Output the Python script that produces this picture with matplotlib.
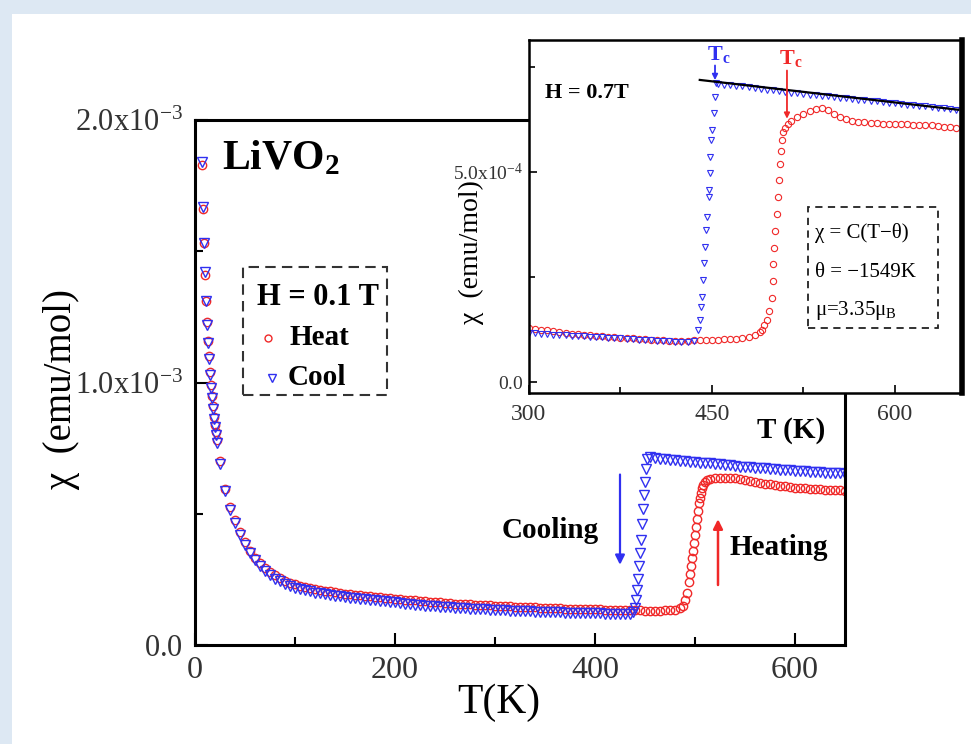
import matplotlib
matplotlib.use("Agg")
import matplotlib.pyplot as plt
from matplotlib.patches import Rectangle
from matplotlib.ticker import FixedLocator, FixedFormatter

plt.rcParams['font.family'] = 'Liberation Serif'
plt.rcParams['mathtext.fontset'] = 'custom'
plt.rcParams['mathtext.rm'] = 'Liberation Serif'
plt.rcParams['mathtext.it'] = 'Liberation Serif:italic'
plt.rcParams['mathtext.bf'] = 'Liberation Serif:bold'

RED = '#f02828'
BLUE = '#3030f0'

# ---- main plot, H = 0.1 T, chi in 1e-3 emu/mol ----
cool_T_low = [7, 8, 9, 10, 11, 12, 13, 14, 15, 16, 17, 18, 19, 20, 21, 22]
cool_chi_low = [1.84, 1.67, 1.53, 1.42, 1.31, 1.22, 1.15, 1.09, 1.03, 0.98, 0.94, 0.90, 0.86, 0.83, 0.80, 0.77]
cool_T_tail = [25, 30, 35, 40, 45, 50, 55, 60, 65, 70, 75, 80, 85, 90, 95, 100, 105, 110, 115, 120,
               125, 130, 135, 140, 145, 150, 155, 160, 165, 170, 175, 180, 185, 190, 195, 200, 205, 210,
               215, 220, 225, 230, 235, 240, 245, 250, 255, 260, 265, 270, 275, 280, 285, 290, 295, 300,
               305, 310, 315, 320, 325, 330, 335, 340, 345, 350, 355, 360, 365, 370, 375, 380, 385, 390,
               395, 400, 405, 410, 415, 420, 425, 430, 435]
cool_chi_tail = [0.690, 0.585, 0.515, 0.465, 0.420, 0.380, 0.350, 0.322, 0.300, 0.283, 0.267, 0.253,
                 0.242, 0.232, 0.224, 0.218, 0.213, 0.208, 0.204, 0.200, 0.197, 0.194, 0.191, 0.188,
                 0.185, 0.183, 0.180, 0.178, 0.176, 0.174, 0.172, 0.170, 0.168, 0.166, 0.164, 0.162,
                 0.160, 0.158, 0.156, 0.154, 0.152, 0.150, 0.149, 0.147, 0.146, 0.145, 0.143, 0.142,
                 0.141, 0.140, 0.139, 0.138, 0.137, 0.136, 0.135, 0.134, 0.133, 0.132, 0.131, 0.130,
                 0.129, 0.128, 0.128, 0.127, 0.126, 0.126, 0.125, 0.124, 0.124, 0.123, 0.123, 0.122,
                 0.122, 0.122, 0.121, 0.121, 0.121, 0.120, 0.120, 0.120, 0.120, 0.119, 0.119]
cool_T_jump = [438, 440, 441, 442, 443, 444, 445, 446, 447, 448, 449, 450, 451, 452]
cool_chi_jump = [0.125, 0.14, 0.17, 0.21, 0.25, 0.30, 0.35, 0.40, 0.46, 0.52, 0.57, 0.62, 0.67, 0.71]
cool_T_high = [455, 460, 465, 470, 475, 480, 485, 490, 495, 500, 505, 510, 515, 520, 525, 530, 535,
               540, 545, 550, 555, 560, 565, 570, 575, 580, 585, 590, 595, 600, 605, 610, 615, 620,
               625, 630, 635, 640, 645, 650]
cool_chi_high = [0.715, 0.712, 0.710, 0.708, 0.706, 0.704, 0.702, 0.700, 0.699, 0.697, 0.695, 0.693,
                 0.692, 0.690, 0.688, 0.686, 0.684, 0.682, 0.680, 0.679, 0.677, 0.676, 0.674, 0.673,
                 0.671, 0.670, 0.668, 0.667, 0.665, 0.664, 0.662, 0.661, 0.660, 0.659, 0.658, 0.657,
                 0.656, 0.655, 0.654, 0.653]

heat_T_low = [7, 8, 9, 10, 11, 12, 13, 14, 15, 16, 17, 18, 19, 20, 21, 22]
heat_chi_low = [1.83, 1.66, 1.53, 1.41, 1.31, 1.23, 1.16, 1.10, 1.04, 0.99, 0.95, 0.91, 0.87, 0.84, 0.81, 0.78]
heat_T_tail = [25, 30, 35, 40, 45, 50, 55, 60, 65, 70, 75, 80, 85, 90, 95, 100, 105, 110, 115, 120,
               125, 130, 135, 140, 145, 150, 155, 160, 165, 170, 175, 180, 185, 190, 195, 200, 205, 210,
               215, 220, 225, 230, 235, 240, 245, 250, 255, 260, 265, 270, 275, 280, 285, 290, 295, 300,
               305, 310, 315, 320, 325, 330, 335, 340, 345, 350, 355, 360, 365, 370, 375, 380, 385, 390,
               395, 400, 405, 410, 415, 420, 425, 430, 435, 440, 445, 450, 455, 460, 465, 470, 475, 480,
               485]
heat_chi_tail = [0.700, 0.595, 0.525, 0.475, 0.430, 0.391, 0.360, 0.333, 0.311, 0.294, 0.279, 0.265,
                 0.254, 0.245, 0.237, 0.231, 0.226, 0.221, 0.217, 0.213, 0.210, 0.207, 0.204, 0.201,
                 0.199, 0.196, 0.194, 0.192, 0.190, 0.188, 0.186, 0.184, 0.182, 0.180, 0.178, 0.176,
                 0.175, 0.173, 0.171, 0.170, 0.168, 0.167, 0.165, 0.164, 0.162, 0.161, 0.160, 0.158,
                 0.157, 0.156, 0.155, 0.154, 0.153, 0.152, 0.151, 0.150, 0.149, 0.148, 0.147, 0.146,
                 0.145, 0.145, 0.144, 0.143, 0.142, 0.142, 0.141, 0.140, 0.140, 0.139, 0.139, 0.138,
                 0.138, 0.137, 0.137, 0.136, 0.136, 0.135, 0.135, 0.134, 0.134, 0.133, 0.133, 0.132,
                 0.132, 0.131, 0.131, 0.131, 0.131, 0.132, 0.133, 0.135, 0.140]
heat_T_jump = [488, 490, 492, 494, 495, 496, 497, 498, 499, 500, 501, 502, 503, 504, 505, 506, 507, 508, 510, 512]
heat_chi_jump = [0.15, 0.17, 0.20, 0.24, 0.27, 0.30, 0.33, 0.36, 0.39, 0.42, 0.45, 0.48, 0.51, 0.54,
                 0.56, 0.58, 0.60, 0.61, 0.62, 0.63]
heat_T_high = [515, 520, 525, 530, 535, 540, 545, 550, 555, 560, 565, 570, 575, 580, 585, 590, 595,
               600, 605, 610, 615, 620, 625, 630, 635, 640, 645, 650]
heat_chi_high = [0.632, 0.636, 0.638, 0.638, 0.637, 0.636, 0.633, 0.630, 0.626, 0.622, 0.618, 0.615,
                 0.612, 0.609, 0.606, 0.604, 0.602, 0.600, 0.598, 0.597, 0.595, 0.594, 0.593, 0.592,
                 0.591, 0.590, 0.589, 0.588]

# ---- inset, H = 0.7 T, chi in 1e-4 emu/mol ----
in_cool_T_low = [300, 305, 310, 315, 320, 325, 330, 335, 340, 345, 350, 355, 360, 365, 370, 375, 380,
                 385, 390, 395, 400, 405, 410, 415, 420, 425, 430, 435]
in_cool_chi_low = [1.17, 1.16, 1.15, 1.14, 1.13, 1.12, 1.11, 1.10, 1.09, 1.09, 1.08, 1.07, 1.07, 1.06,
                   1.05, 1.04, 1.03, 1.02, 1.01, 1.00, 0.99, 0.98, 0.97, 0.97, 0.96, 0.96, 0.96, 0.97]
in_cool_T_jump = [438.8, 440.2, 441.1, 441.7, 443.0, 443.6, 444.4, 445.2, 445.8, 447.2, 447.6, 448.0,
                  448.5, 449.1, 449.9, 451.3, 452.6, 453.5]
in_cool_chi_jump = [1.24, 1.48, 1.79, 2.03, 2.43, 2.83, 3.22, 3.62, 3.94, 4.41, 4.57, 4.97, 5.36, 5.76,
                    6.00, 6.40, 6.79, 7.11]
in_cool_T_high = [455, 460, 465, 470, 475, 480, 485, 490, 495, 500, 505, 510, 515, 520, 525, 530, 535,
                  540, 545, 550, 555, 560, 565, 570, 575, 580, 585, 590, 595, 600, 605, 610, 615, 620,
                  625, 630, 635, 640, 645, 650]
in_cool_chi_high = [7.10, 7.08, 7.07, 7.05, 7.04, 7.02, 7.00, 6.98, 6.96, 6.94, 6.92, 6.90, 6.89, 6.87,
                    6.86, 6.84, 6.83, 6.81, 6.80, 6.78, 6.77, 6.75, 6.74, 6.72, 6.71, 6.69, 6.68, 6.66,
                    6.65, 6.63, 6.62, 6.60, 6.59, 6.57, 6.56, 6.54, 6.53, 6.51, 6.50, 6.48]

in_heat_T_low = [300, 305, 310, 315, 320, 325, 330, 335, 340, 345, 350, 355, 360, 365, 370, 375, 380,
                 385, 390, 395, 400, 405, 410, 415, 420, 425, 430, 435, 440, 445, 450, 455, 460, 465,
                 470, 475, 480, 485]
in_heat_chi_low = [1.29, 1.27, 1.25, 1.23, 1.21, 1.19, 1.17, 1.15, 1.14, 1.12, 1.11, 1.10, 1.09, 1.08,
                   1.07, 1.06, 1.05, 1.04, 1.03, 1.02, 1.01, 1.00, 0.99, 0.98, 0.98, 0.98, 0.98, 0.99,
                   1.00, 1.00, 1.01, 1.01, 1.02, 1.02, 1.03, 1.05, 1.08, 1.13]
in_heat_T_jump = [489, 491, 493, 495, 497, 499, 499.7, 500.3, 501, 502, 503, 504, 505, 505.7, 506.5,
                  507.1, 508.5, 509.8, 512]
in_heat_chi_jump = [1.19, 1.25, 1.35, 1.48, 1.70, 2.00, 2.40, 2.80, 3.20, 3.60, 4.00, 4.40, 4.80, 5.20,
                    5.50, 5.76, 5.95, 6.04, 6.15]
in_heat_T_high = [515, 520, 525, 530, 535, 540, 545, 550, 555, 560, 565, 570, 575, 580, 585, 590, 595,
                  600, 605, 610, 615, 620, 625, 630, 635, 640, 645, 650]
in_heat_chi_high = [6.22, 6.30, 6.38, 6.45, 6.50, 6.52, 6.48, 6.38, 6.30, 6.25, 6.22, 6.20, 6.19, 6.17,
                    6.16, 6.15, 6.14, 6.14, 6.13, 6.13, 6.12, 6.12, 6.12, 6.11, 6.10, 6.08, 6.06, 6.05]

fit_T = [440, 652]
fit_chi = [7.19, 6.48]

main_xticks = [0, 200, 400, 600]
main_yticks = [0.0, 1.0e-3, 2.0e-3]
main_ylabels = [r'$\mathregular{0.0}$', r'$\mathregular{1.0x10^{-3}}$', r'$\mathregular{2.0x10^{-3}}$']
inset_xticks = [300, 450, 600]
inset_yticks = [0.0, 5.0e-4]
inset_ylabels = [r'$\mathregular{0.0}$', r'$\mathregular{5.0x10^{-4}}$']

cool_T = cool_T_low + cool_T_tail + cool_T_jump + cool_T_high
cool_chi = [v * 1e-3 for v in cool_chi_low + cool_chi_tail + cool_chi_jump + cool_chi_high]
heat_T = heat_T_low + heat_T_tail + heat_T_jump + heat_T_high
heat_chi = [v * 1e-3 for v in heat_chi_low + heat_chi_tail + heat_chi_jump + heat_chi_high]
in_cool_T = in_cool_T_low + in_cool_T_jump + in_cool_T_high
in_cool_chi = [v * 1e-4 for v in in_cool_chi_low + in_cool_chi_jump + in_cool_chi_high]
in_heat_T = in_heat_T_low + in_heat_T_jump + in_heat_T_high
in_heat_chi = [v * 1e-4 for v in in_heat_chi_low + in_heat_chi_jump + in_heat_chi_high]

W, H = 971, 744
fig = plt.figure(figsize=(W / 100, H / 100), dpi=100)
fig.patch.set_facecolor('#dde8f3')
fig.add_artist(Rectangle((12 / W, 0), 1, 1 - 14 / H, transform=fig.transFigure,
                         facecolor='white', edgecolor='none', zorder=-5))

ax = fig.add_axes([195 / W, 1 - 645 / H, 650 / W, 525 / H])
ax.plot(heat_T, heat_chi, ls='none', marker='o', ms=6, mfc='none', mec=RED, mew=1.0)
ax.plot(cool_T, cool_chi, ls='none', marker='v', ms=6.5, mfc='none', mec=BLUE, mew=1.0)
ax.set_xlim(0, 650)
ax.set_ylim(0, 2.0e-3)
ax.xaxis.set_major_locator(FixedLocator(main_xticks))
ax.xaxis.set_minor_locator(FixedLocator([100, 300, 500]))
ax.yaxis.set_major_locator(FixedLocator(main_yticks))
ax.yaxis.set_major_formatter(FixedFormatter(main_ylabels))
ax.yaxis.set_minor_locator(FixedLocator([0.5e-3, 1.5e-3]))
ax.tick_params(which='both', direction='in', width=1.5, colors='black', labelcolor='#333333')
ax.tick_params(which='major', length=9)
ax.tick_params(which='minor', length=6)
ax.tick_params(axis='x', labelsize=23, pad=8)
ax.tick_params(axis='y', labelsize=22, pad=9)
for s in ax.spines.values():
    s.set_linewidth(2.2)

ax.text(-0.205, 0.486, u'\u03c7  (emu/mol)', transform=ax.transAxes, rotation=90,
        ha='center', va='center', fontsize=28)
ax.text(0.468, -0.11, 'T(K)', transform=ax.transAxes, ha='center', va='center', fontsize=30)
ax.text(0.042, 0.962, r'LiVO$_\mathbf{2}$', transform=ax.transAxes, ha='left', va='top',
        fontsize=30, fontweight='bold')

# legend box
ax.add_patch(Rectangle((0.074, 0.476), 0.221, 0.244, transform=ax.transAxes, fill=False,
                       ec='#333333', lw=1.5, ls=(0, (5, 3))))
ax.text(0.095, 0.661, 'H = 0.1 T', transform=ax.transAxes, ha='left', va='center',
        fontsize=22, fontweight='bold')
ax.plot([0.112], [0.585], transform=ax.transAxes, marker='o', ms=5, mfc='none', mec=RED, mew=1)
ax.text(0.146, 0.585, 'Heat', transform=ax.transAxes, ha='left', va='center',
        fontsize=21, fontweight='bold')
ax.plot([0.118], [0.509], transform=ax.transAxes, marker='v', ms=6, mfc='none', mec=BLUE, mew=1)
ax.text(0.143, 0.509, 'Cool', transform=ax.transAxes, ha='left', va='center',
        fontsize=21, fontweight='bold')

ax.text(0.472, 0.219, 'Cooling', transform=ax.transAxes, ha='left', va='center',
        fontsize=21, fontweight='bold')
ax.text(0.823, 0.185, 'Heating', transform=ax.transAxes, ha='left', va='center',
        fontsize=21, fontweight='bold')
ax.annotate('', xy=(425, 0.295e-3), xytext=(425, 0.66e-3),
            arrowprops=dict(arrowstyle='-|>', color=BLUE, lw=1.6, mutation_scale=14))
ax.annotate('', xy=(523, 0.49e-3), xytext=(523, 0.218e-3),
            arrowprops=dict(arrowstyle='-|>', color=RED, lw=1.8, mutation_scale=14))

# inset
ins = fig.add_axes([529 / W, 1 - 393 / H, 433 / W, 353 / H])
ins.set_facecolor('white')
ins.plot(in_heat_T, in_heat_chi, ls='none', marker='o', ms=4.5, mfc='none', mec=RED, mew=0.8)
ins.plot(in_cool_T, in_cool_chi, ls='none', marker='v', ms=4.8, mfc='none', mec=BLUE, mew=0.8)
ins.plot(fit_T, [v * 1e-4 for v in fit_chi], color='black', lw=1.6)
ins.set_xlim(300, 655)
ins.set_ylim(-0.26e-4, 8.14e-4)
ins.xaxis.set_major_locator(FixedLocator(inset_xticks))
ins.xaxis.set_minor_locator(FixedLocator([375, 525]))
ins.yaxis.set_major_locator(FixedLocator(inset_yticks))
ins.yaxis.set_major_formatter(FixedFormatter(inset_ylabels))
ins.yaxis.set_minor_locator(FixedLocator([2.5e-4, 7.5e-4]))
ins.tick_params(which='both', direction='in', width=1.2, labelcolor='#333333')
ins.tick_params(which='major', length=6)
ins.tick_params(which='minor', length=4)
ins.tick_params(axis='x', labelsize=17, pad=8)
ins.tick_params(axis='y', labelsize=14, pad=4)
for s in ins.spines.values():
    s.set_linewidth(1.8)
ins.spines['right'].set_linewidth(4)

ins.text(-0.132, 0.40, u'\u03c7  (emu/mol)', transform=ins.transAxes, rotation=90,
         ha='center', va='center', fontsize=20)
ins.text(0.605, -0.105, 'T (K)', transform=ins.transAxes, ha='center', va='center',
         fontsize=21, fontweight='bold')
ins.text(313, 6.88e-4, 'H = 0.7T', ha='left', va='center', fontsize=16, fontweight='bold')
ins.text(446.0, 7.8e-4, r'T$_\mathbf{c}$', color=BLUE, ha='left', va='center',
         fontsize=16, fontweight='bold')
ins.text(505.0, 7.7e-4, r'T$_\mathbf{c}$', color=RED, ha='left', va='center',
         fontsize=16, fontweight='bold')
ins.annotate('', xy=(452.5, 7.12e-4), xytext=(452.5, 7.6e-4),
             arrowprops=dict(arrowstyle='-|>', color=BLUE, lw=1.3, mutation_scale=8))
ins.annotate('', xy=(511.5, 6.2e-4), xytext=(511.5, 7.48e-4),
             arrowprops=dict(arrowstyle='-|>', color=RED, lw=1.3, mutation_scale=8))

ins.add_patch(Rectangle((0.644, 0.184), 0.300, 0.343, transform=ins.transAxes, fill=False,
                        ec='#222222', lw=1.3, ls=(0, (4, 3))))
ins.text(0.66, 0.453, u'\u03c7 = C(T\u2212\u03b8)', transform=ins.transAxes, ha='left',
         va='center', fontsize=15)
ins.text(0.66, 0.34, u'\u03b8 = \u22121549K', transform=ins.transAxes, ha='left',
         va='center', fontsize=15)
ins.text(0.66, 0.235, u'\u03bc=3.35\u03bc$_\\mathregular{B}$', transform=ins.transAxes,
         ha='left', va='center', fontsize=15)

fig.savefig('out.png', dpi=100, facecolor=fig.get_facecolor())
